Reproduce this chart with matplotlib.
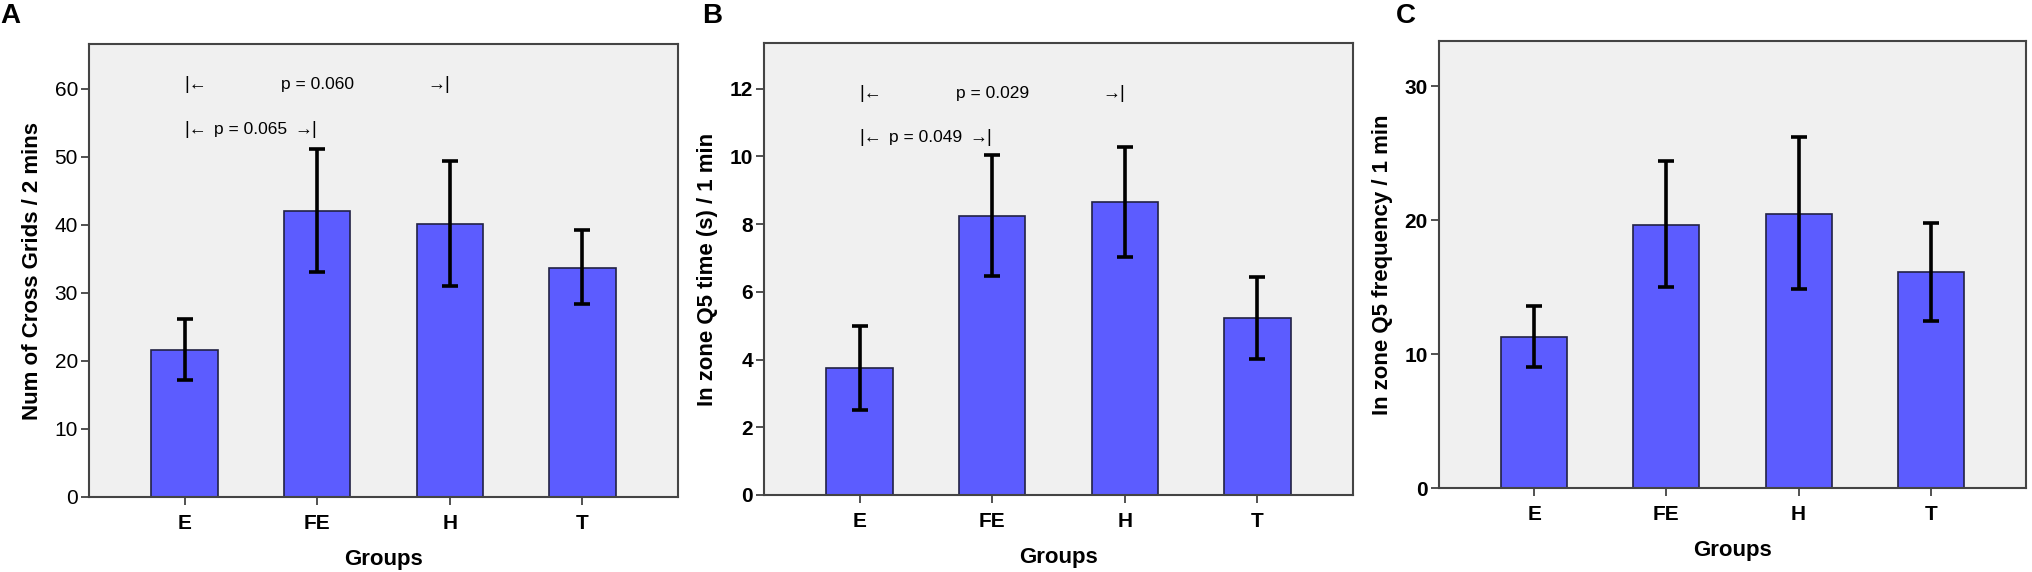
import matplotlib
matplotlib.use("Agg")
import matplotlib.pyplot as plt
import numpy as np

groups = ["E", "FE", "H", "T"]

# Panel A
a_means = [21.6, 42.1, 40.1, 33.7]
a_upper = [26.2, 51.2, 49.4, 39.2]
a_lower = [17.2, 33.1, 31.0, 28.4]
a_ticks = [0, 10, 20, 30, 40, 50, 60]

# Panel B
b_means = [3.74, 8.25, 8.66, 5.24]
b_upper = [4.98, 10.04, 10.27, 6.44]
b_lower = [2.50, 6.46, 7.03, 4.02]
b_ticks = [0, 2, 4, 6, 8, 10, 12]

# Panel C
c_means = [11.27, 19.66, 20.47, 16.09]
c_upper = [13.59, 24.37, 26.16, 19.74]
c_lower = [9.04, 15.00, 14.84, 12.50]
c_ticks = [0, 10, 20, 30]

FAM = ["Liberation Sans", "DejaVu Sans"]
plt.rcParams["font.family"] = FAM

fig = plt.figure(figsize=(20.32, 5.72), dpi=100)
W, H = 2032.0, 572.0

def rect(l, r, t, b):
    return [l / W, (H - b) / H, (r - l) / W, (b - t) / H]

panels = [
    dict(rect=rect(89, 678, 44, 497), means=a_means, up=a_upper, lo=a_lower,
         ticks=a_ticks, ymax=66.6, ylabel="Num of Cross Grids / 2 mins",
         letter="A", lx=0, tickbold=False,
         brackets=[(0, 2, 60.6, "p = 0.060"), (0, 1, 54.0, "p = 0.065")]),
    dict(rect=rect(764, 1353, 43, 495), means=b_means, up=b_upper, lo=b_lower,
         ticks=b_ticks, ymax=13.35, ylabel="In zone Q5 time (s) / 1 min",
         letter="B", lx=702, tickbold=True,
         brackets=[(0, 2, 11.87, "p = 0.029"), (0, 1, 10.55, "p = 0.049")]),
    dict(rect=rect(1439, 2026, 41, 488), means=c_means, up=c_upper, lo=c_lower,
         ticks=c_ticks, ymax=33.36, ylabel="In zone Q5 frequency / 1 min",
         letter="C", lx=1396, tickbold=True, brackets=[]),
]

x = np.arange(len(groups))
for p in panels:
    ax = fig.add_axes(p["rect"])
    ax.set_facecolor("#f0f0f0")
    means = np.array(p["means"])
    err = [means - np.array(p["lo"]), np.array(p["up"]) - means]
    ax.bar(x, means, width=0.5, color="#5c5cff", edgecolor="#222244",
           linewidth=1.2, zorder=2)
    ax.errorbar(x, means, yerr=err, fmt="none", ecolor="black",
                elinewidth=2.6, capsize=6, capthick=2.6, zorder=3)
    ax.set_xlim(-0.72, 3.72)
    ax.set_ylim(0, p["ymax"])
    ax.set_xticks(x)
    ax.set_xticklabels(groups, fontsize=15, fontweight="bold")
    ax.set_yticks(p["ticks"])
    ax.set_yticklabels([str(t) for t in p["ticks"]], fontsize=15,
                       fontweight="bold" if p["tickbold"] else "normal")
    ax.tick_params(axis="both", direction="out", length=6, width=1.2,
                   color="#333333", pad=2)
    ax.tick_params(axis="x", pad=6)
    for s in ax.spines.values():
        s.set_color("#444444")
        s.set_linewidth(1.5)
    ax.set_xlabel("Groups", fontsize=16, fontweight="bold", labelpad=12)
    ax.set_ylabel(p["ylabel"], fontsize=16, fontweight="bold", labelpad=8)
    for (i0, i1, yv, txt) in p["brackets"]:
        ax.text(x[i0], yv, "|\u2190", ha="left", va="center", fontsize=13,
                family=FAM, zorder=4)
        ax.text(x[i1], yv, "\u2192|", ha="right", va="center", fontsize=13,
                family=FAM, zorder=4)
        ax.text((x[i0] + x[i1]) / 2, yv, txt, ha="center", va="center",
                fontsize=12.5, zorder=4)
    fig.text(p["lx"] / W, 1 - 16 / H, p["letter"], fontsize=20,
             fontweight="bold", ha="left", va="center")

fig.savefig("out.png", dpi=100, facecolor="white")
